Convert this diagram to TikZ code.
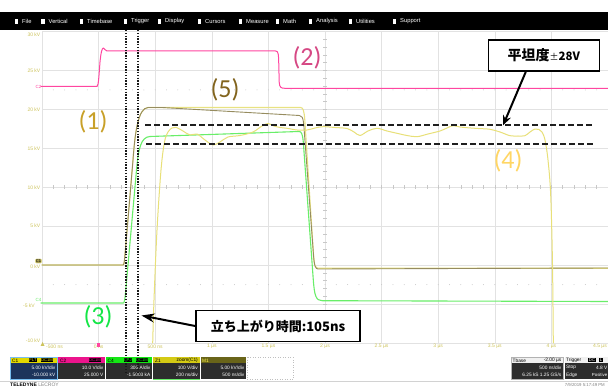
\documentclass[tikz,border=0pt]{standalone}
\usepackage{fontspec}
\setmainfont{Liberation Sans}
\newfontfamily\carl{Carlito}
\newfontfamily\cjk{Noto Sans CJK JP}
\usetikzlibrary{arrows.meta,calc}
\definecolor{gridc}{RGB}{226,226,226}
\definecolor{tickc}{RGB}{200,200,200}
\definecolor{axc}{RGB}{205,195,90}
\definecolor{ylwc}{RGB}{232,226,130}
\definecolor{zoomc}{RGB}{232,224,120}
\definecolor{olivec}{RGB}{150,140,95}
\definecolor{greenc}{RGB}{105,238,105}
\definecolor{pinkc}{RGB}{255,70,160}
\definecolor{lab1}{RGB}{200,160,40}
\definecolor{lab2}{RGB}{214,72,132}
\definecolor{lab3}{RGB}{20,230,70}
\definecolor{lab4}{RGB}{255,214,100}
\definecolor{lab5}{RGB}{130,100,30}
\definecolor{c1head}{RGB}{226,216,0}
\definecolor{c1body}{RGB}{28,52,92}
\definecolor{c2head}{RGB}{236,20,140}
\definecolor{c4head}{RGB}{20,230,20}
\definecolor{z1head}{RGB}{212,202,20}
\definecolor{m1head}{RGB}{105,100,25}
\definecolor{bodyc}{RGB}{45,45,45}
\definecolor{selc}{RGB}{120,190,240}
\begin{document}
\begin{tikzpicture}[x=1pt,y=-1pt,
  gridl/.style={draw=gridc, line width=0.6pt},
  trace/.style={line width=1.1pt, line join=round, line cap=round},
  biglabel/.style={font=\carl\fontsize{26}{26}\selectfont, inner sep=0pt},
  callout/.style={draw=black, line width=1.6pt, fill=white, inner sep=2pt},
  callarrow/.style={line width=2pt, -{Stealth[length=10pt,width=8pt]}},
  ui/.style={font=\fontsize{5}{5}\selectfont, inner sep=0pt},
  menu/.style={font=\fontsize{5.8}{6}\selectfont, inner sep=0pt, text=white, anchor=west},
  panel/.style={font=\fontsize{4.8}{5}\selectfont, inner sep=0pt},
  tag/.style={font=\fontsize{4.2}{4.5}\selectfont, inner sep=0.5pt, fill=black},
  dashl/.style={draw=black!88, line width=2pt, dash pattern=on 6pt off 3pt},
  dotl/.style={draw=black!90, line width=1.9pt, dash pattern=on 1.4pt off 1.4pt}
]
\useasboundingbox (0,0) rectangle (608,387);
\fill[white] (0,0) rectangle (608,387);

% toolbar
\fill[black] (0,12.5) rectangle (608,30);
\foreach \t/\x in {File/22,Vertical/48.5,Timebase/87,Trigger/131,Display/165,Cursors/205,Measure/246,Math/283,Analysis/316,Utilities/356,Support/400}{
  \node[menu] at (\x,21.5) {\t};
  \fill[white] ({\x-7.5},19) rectangle ({\x-4},24);
}

% grid
\foreach \i in {0,...,10} \draw[gridl] ({42+56.6*\i},31.5) -- ({42+56.6*\i},343);
\foreach \j in {0,...,8} \draw[gridl] (42,{31.5+38.94*\j}) -- (608,{31.5+38.94*\j});
\foreach \m in {1,...,39} \draw[tickc, line width=0.5pt] (323,{31.5+7.788*\m}) -- (327,{31.5+7.788*\m});
\foreach \m in {1,...,49} \draw[tickc, line width=0.5pt] ({42+11.32*\m},185.3) -- ({42+11.32*\m},189.3);
\foreach \m in {1,...,49} {
  \fill[tickc] ({42+11.32*\m},89.9) circle (0.5);
  \fill[tickc] ({42+11.32*\m},284.6) circle (0.5);
}

% axis labels
\foreach \v/\yy in {30 kV/34.5,25 kV/70.4,20 kV/109.4,15 kV/148.3,10 kV/187.3,5 kV/226.2,0 kV/267}
  \node[ui, text=axc, anchor=east] at (40.5,\yy) {\v};
\node[ui, text=axc, anchor=east] at (35,305.5) {-5 kV};
\node[ui, text=axc, anchor=east] at (40.5,340.5) {-10 kV};
\node[ui, text=axc, anchor=west] at (46,346.5) {-500 ns};
\foreach \v/\k in {0 ns/1,500 ns/2,1 µs/3,1.5 µs/4,2 µs/5,2.5 µs/6,3 µs/7,3.5 µs/8,4 µs/9}
  \node[ui, text=axc] at ({42+56.6*\k},346.5) {\v};
\node[ui, text=axc, anchor=east] at (607,346.5) {4.5 µs};
\fill[axc] (42.5,342) -- (40.5,346) -- (44.5,346) -- cycle;
\fill[pinkc] (97,343.5) rectangle (100,347);

% channel markers
\node[ui, text=pinkc, font=\fontsize{4.5}{5}\selectfont] at (38.5,86.5) {C2};
\node[ui, text=greenc, font=\fontsize{4.5}{5}\selectfont] at (38.5,300) {C4};
\node[draw=ylwc, fill=olivec!85!yellow, rounded corners=1pt, inner sep=0.6pt, font=\fontsize{4}{4.5}\selectfont] at (38.5,261) {C1};

% traces
\draw[trace, pinkc, line width=1pt] (41,86.5) -- (97,86.5) .. controls (98.5,86) and (99,75) .. (100,62) .. controls (101,52) and (102,48) .. (103.5,48) .. controls (104.5,48) and (105,51) .. (107,51) -- (275.5,51) .. controls (278.5,51) and (278.5,54) .. (278.8,65) -- (279.2,82) .. controls (279.5,87.5) and (281,88.3) .. (285,88.3) -- (608,88.3);

\draw[trace, greenc] (41,303) -- (123.3,303) .. controls (124.3,303) and (124.8,300) .. (125.5,293) -- (136.5,170) .. controls (138.5,148) and (141,137) .. (150,136.5) -- (299,131.5) .. controls (301.5,131.5) and (302.5,134) .. (303.3,142) -- (313.3,280) .. controls (314.5,296) and (316,300.5) .. (322,300.7) -- (608,301.5);

\draw[trace, ylwc] (42,265) -- (123,265) .. controls (124,265) and (124.3,262) .. (124.8,257) -- (133,160) .. controls (135,133) and (138,108) .. (148,107.5) -- (300.5,107.5) .. controls (303,107.5) and (304,110) .. (304.8,120) -- (313.5,255) .. controls (314.3,266) and (315,268.3) .. (319,268.3) -- (608,268.3);

\draw[trace, olivec, line width=0.9pt] (42,265) -- (123,265) .. controls (124,265) and (124.3,262) .. (124.8,257) -- (133,160) .. controls (135,133) and (138,108) .. (148,107.5) -- (162,107.5) -- (299.5,115.5) .. controls (302,115.7) and (303,117) .. (303.8,125) -- (313.5,255) .. controls (314.3,266) and (315.5,269) .. (318,269) -- (608,268);

\draw[trace, zoomc, line width=1pt] plot[smooth, tension=0.55] coordinates {
 (152.7,343) (154,300) (157,230) (161,170) (164.5,142) (168,132) (172,128) (176,127.3)
 (183,131) (190,135) (197,134) (205,140) (213,145) (220,142) (228,137) (240,135.5)
 (253,132) (262,126) (268,123.5) (274,126) (280,127.5) (287,128.3) (297,130) (307,130)
 (315,128) (323,126.7) (335,127.5) (347,128.5) (354,132) (360,135.5) (368,131) (377,128.3)
 (387,131) (397,133.3) (407,135.5) (417,136.7) (428,134) (440,131) (447,128) (453,125.7)
 (460,127) (467,127.7) (478,128.5) (490,129.3) (500,132) (510,135.7) (518,136) (525,135.7)
 (530,132) (535,129) (539,129.5) (542,132) (545,140) (548,160) (550.7,195) (552.5,265) (553.3,343)};

% flatness band
\draw[dashl] (145,125.5) -- (593,125.5);
\draw[dashl] (146,144.5) -- (593,144.5);

% bottom panel
\draw[gray!35, line width=0.6pt] (0,381) -- (608,381);
% C1
\fill[c1body] (10,363.5) rectangle (57,379.5);
\fill[c1head] (10,357.3) rectangle (57,363.5);
\draw[selc, line width=0.8pt] (10,357.3) rectangle (57,379.5);
\node[panel, anchor=west] at (12,360.4) {C1};
\node[tag, text=c1head] at (33,360.4) {FLT};
\node[tag, text=c1head] at (47,360.4) {DC1M};
\node[panel, text=white, anchor=east] at (55.5,367.6) {5.00 kV/div};
\node[panel, text=white, anchor=east] at (55.5,374.8) {-10.000 kV};
% C2
\fill[bodyc] (58.3,363.5) rectangle (105,379.5);
\fill[c2head] (58.3,357.3) rectangle (105,363.5);
\node[panel, anchor=west] at (60,360.4) {C2};
\node[tag, text=c2head] at (95,360.4) {DC1M};
\node[panel, text=white, anchor=east] at (103.5,367.6) {10.0 V/div};
\node[panel, text=white, anchor=east] at (103.5,374.8) {25.000 V};
% C4
\fill[bodyc] (105.8,363.5) rectangle (152,379.5);
\fill[c4head] (105.8,357.3) rectangle (152,363.5);
\node[panel, anchor=west] at (107.5,360.4) {C4};
\node[tag, text=c4head] at (128,360.4) {LPJ};
\node[tag, text=c4head] at (142,360.4) {DC1M};
\node[panel, text=white, anchor=east] at (150.5,367.6) {300 A/div};
\node[panel, text=white, anchor=east] at (150.5,374.8) {-1.5003 kA};
% Z1
\fill[bodyc] (153,363.5) rectangle (199.5,379.5);
\fill[z1head] (153,357.3) rectangle (199.5,363.5);
\draw[greenc, line width=0.8pt] (153,379.2) -- (199.5,379.2);
\node[panel, anchor=west] at (155,360.4) {Z1};
\node[panel, anchor=east] at (198,360.4) {zoom(C1)};
\node[panel, text=white, anchor=east] at (198,367.6) {100 V/div};
\node[panel, text=white, anchor=east] at (198,374.8) {200 ns/div};
% M1
\fill[bodyc] (200.5,363.5) rectangle (246,379.5);
\fill[m1head] (200.5,357.3) rectangle (246,363.5);
\node[panel, text=yellow!70, anchor=west] at (202,360.4) {M1};
\node[panel, text=white, anchor=east] at (244.5,367.6) {5.00 kV/div};
\node[panel, text=white, anchor=east] at (244.5,374.8) {500 ns/div};
% empty
\draw[gray!50, line width=0.5pt, dotted] (247,357.3) rectangle (293,379.5);
% Tbase
\fill[bodyc] (511,363.5) rectangle (563,379.5);
\fill[gray!12] (511,357.3) rectangle (563,363.5);
\draw[gray!60, line width=0.4pt] (511,357.3) rectangle (563,379.5);
\node[panel, anchor=west] at (512.5,360.4) {Tbase};
\node[panel, anchor=east] at (561.5,360.4) {-2.00 µs};
\node[panel, text=white, anchor=east] at (561.5,367.6) {500 ns/div};
\node[panel, text=white, anchor=east] at (561.5,374.8) {6.25 kS 1.25 GS/s};
% Trigger
\fill[bodyc] (564.5,363.5) rectangle (608,379.5);
\fill[gray!12] (564.5,357.3) rectangle (608,363.5);
\node[panel, anchor=west] at (566,360.4) {Trigger};
\node[tag, text=white] at (592,360.4) {DC};
\node[tag, text=white] at (601,360.4) {L};
\node[panel, text=white, anchor=west] at (566,367.6) {Stop};
\node[panel, text=white, anchor=east] at (607.5,367.6) {4.8 V};
\node[panel, text=white, anchor=west] at (566,374.8) {Edge};
\node[panel, text=white, anchor=east, font=\fontsize{4.4}{5}\selectfont] at (607.5,374.8) {Positive};
% footer
\node[panel, anchor=west, font=\bfseries\fontsize{5}{5}\selectfont] at (10,385) {TELEDYNE \mdseries\color{gray}LECROY};
\node[panel, anchor=east, text=gray, font=\fontsize{4.3}{5}\selectfont] at (605,384.6) {7/9/2019 5:17:49 PM};

% rise-time cursors
\draw[dotl] (126,30) -- (126,372);
\draw[dotl] (138,30) -- (138,372);

% labels
\node[biglabel, text=lab1] (l1) at (93,122) {(1)};
\node[biglabel, text=lab2] (l2) at (307,58) {(2)};
\node[biglabel, text=lab3] (l3) at (98,317) {(3)};
\node[biglabel, text=lab4] (l4) at (508,160.5) {(4)};
\node[biglabel, text=lab5] (l5) at (225,90) {(5)};

% callouts
\node[callout, minimum width=111pt, minimum height=31pt] (flat) at (543.8,55.5)
  {\cjk\bfseries\fontsize{14}{14}\selectfont 平坦度{\mdseries\fontsize{9}{9}\selectfont ±}\fontsize{11.5}{12}\selectfont 28V};
\node[callout, minimum width=164pt, minimum height=31pt] (rise) at (278,326)
  {\cjk\bfseries\fontsize{13}{13}\selectfont 立ち上がり時間:105ns};
\coordinate (flattip) at (503,125.5);
\coordinate (risetip) at (141.5,315.5);
\draw[callarrow] ([xshift=-18pt]flat.south) -- (flattip);
\draw[callarrow, -{Stealth[length=13pt,width=9pt]}] (rise.west) -- (risetip);
\end{tikzpicture}
\end{document}
